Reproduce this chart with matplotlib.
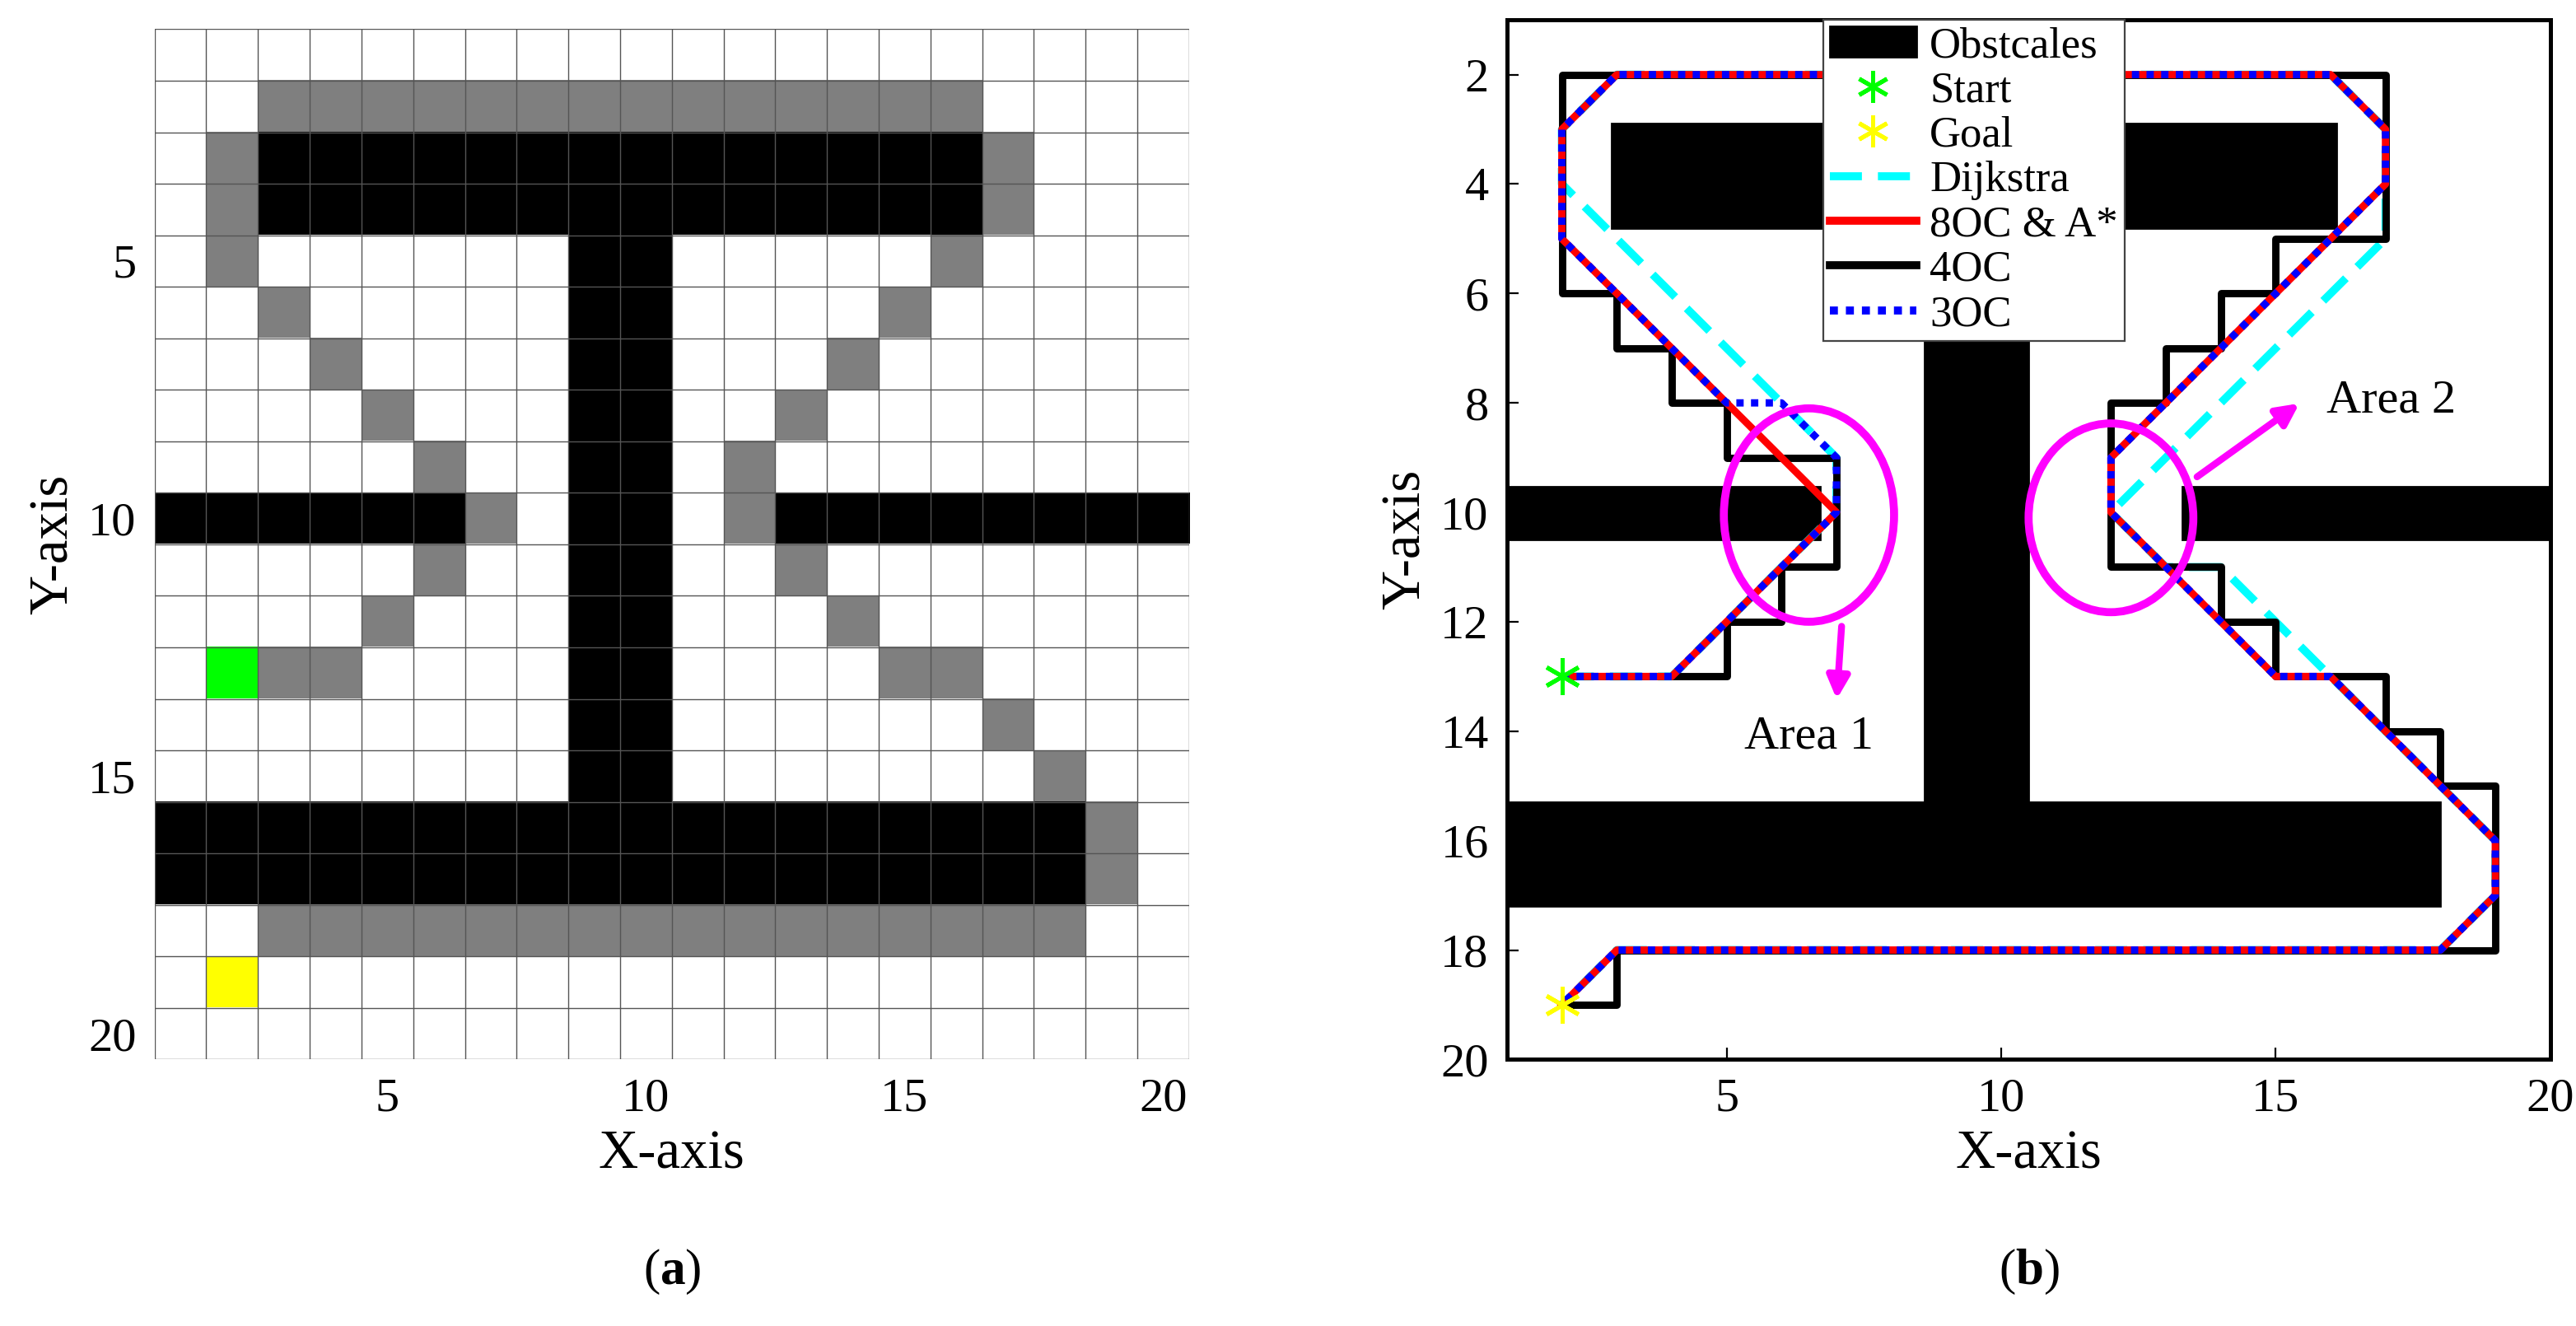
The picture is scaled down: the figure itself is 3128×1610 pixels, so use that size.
import matplotlib
matplotlib.use("Agg")
import matplotlib.pyplot as plt
import numpy as np
from matplotlib.patches import Rectangle, Ellipse
from matplotlib.lines import Line2D

plt.rcParams['font.family'] = ['Liberation Serif', 'DejaVu Serif']
plt.rcParams['mathtext.fontset'] = 'custom'
plt.rcParams['mathtext.rm'] = 'Liberation Serif'
plt.rcParams['mathtext.bf'] = 'Liberation Serif:bold'

# ---------- panel (a) grid data ----------
grid_obstacles = [(3, 16, 3, 4), (9, 10, 5, 15), (1, 6, 10, 10), (13, 20, 10, 10), (1, 18, 16, 17)]
gray_cols = [3,4,5,6,7,8,9,10,11,12,13,14,15,16, 2,2,2, 17,17,
             16,15,14,13,12,12,13,14,15,16,17,18,19,19,
             3,4,5,6,7,6,5,3,4,
             3,4,5,6,7,8,9,10,11,12,13,14,15,16,17,18]
gray_rows = [2]*14 + [3,4,5, 3,4,
             5,6,7,8,9,10,11,12,13,13,14,15,16,17,
             6,7,8,9,10,11,12,13,13,
             ] + [18]*16
start_cell = (2, 13)
goal_cell = (2, 19)

# ---------- panel (b) data ----------
obst_x0 = [2.9, 8.6, 1.0, 13.3, 1.0]
obst_x1 = [16.1, 10.5, 6.7, 20.0, 18.0]
obst_y0 = [2.9, 4.8, 9.53, 9.53, 15.3]
obst_y1 = [4.8, 15.3, 10.5, 10.5, 17.2]

dij_x = [2, 4, 7, 7, 2, 2, 3, 16, 17, 17, 12, 13, 14, 16, 19, 19, 18, 3, 2]
dij_y = [13, 13, 10, 9, 4, 3, 2, 2, 3, 5, 10, 11, 11, 13, 16, 17, 18, 18, 19]
oc8_x = [2, 4, 7, 5, 2, 2, 3, 16, 17, 17, 12, 12, 15, 16, 19, 19, 18, 3, 2]
oc8_y = [13, 13, 10, 8, 5, 3, 2, 2, 3, 4, 9, 10, 13, 13, 16, 17, 18, 18, 19]
oc4_x = [2, 5, 5, 6, 6, 7, 7, 5, 5, 4, 4, 3, 3, 2, 2, 17, 17, 15, 15, 14, 14, 13, 13, 12, 12,
         14, 14, 15, 15, 17, 17, 18, 18, 19, 19, 3, 3, 2]
oc4_y = [13, 13, 12, 12, 11, 11, 9, 9, 8, 8, 7, 7, 6, 6, 2, 2, 5, 5, 6, 6, 7, 7, 8, 8, 11,
         11, 12, 12, 13, 13, 14, 14, 15, 15, 18, 18, 19, 19]
oc3_x = [2, 4, 7, 7, 6, 5, 2, 2, 3, 16, 17, 17, 12, 12, 15, 16, 19, 19, 18, 3, 2]
oc3_y = [13, 13, 10, 9, 8, 8, 5, 3, 2, 2, 3, 4, 9, 10, 13, 13, 16, 17, 18, 18, 19]
start_pt = (2, 13)
goal_pt = (2, 19)

fig = plt.figure(figsize=(15.64, 8.05), dpi=200)

# ---------- panel (a) ----------
axa = fig.add_axes([0.060, 0.201, 0.4016, 0.777])
cells = np.ones((20, 20, 3))
for c0, c1, r0, r1 in grid_obstacles:
    cells[r0-1:r1, c0-1:c1] = 0
for c, r in zip(gray_cols, gray_rows):
    cells[r-1, c-1] = 0.5
cells[start_cell[1]-1, start_cell[0]-1] = (0, 1, 0)
cells[goal_cell[1]-1, goal_cell[0]-1] = (1, 1, 0)
axa.imshow(cells, extent=(0.5, 20.5, 20.5, 0.5), interpolation='nearest', aspect='auto')
for k in np.arange(0.5, 21, 1):
    axa.axvline(k, color='#555555', lw=0.5)
    axa.axhline(k, color='#555555', lw=0.5)
axa.set_xlim(0.5, 20.5)
axa.set_ylim(20.5, 0.5)
axa.set_xticks([5, 10, 15, 20])
axa.set_yticks([5, 10, 15, 20])
axa.tick_params(length=0, labelsize=21, pad=8)
for s in axa.spines.values():
    s.set_visible(False)
axa.set_xlabel('X-axis', fontsize=24, labelpad=4)
axa.set_ylabel('Y-axis', fontsize=24, labelpad=4)

# ---------- panel (b) ----------
axb = fig.add_axes([0.585, 0.201, 0.405, 0.784])
for x0, x1, y0, y1 in zip(obst_x0, obst_x1, obst_y0, obst_y1):
    axb.add_patch(Rectangle((x0, y0), x1 - x0, y1 - y0, color='black', zorder=1))
axb.plot(dij_x, dij_y, color='cyan', lw=3.5, ls=(0, (4, 2)), zorder=2)
axb.plot(oc4_x, oc4_y, color='black', lw=3.2, zorder=3)
axb.plot(oc8_x, oc8_y, color='red', lw=3.2, zorder=4)
axb.plot(oc3_x, oc3_y, color='blue', lw=3.2, ls=(0, (1, 1)), zorder=5)
axb.plot(*start_pt, marker=(6, 2, 0), color='#00ff00', ms=16, mew=1.8, zorder=6, ls='none')
axb.plot(*goal_pt, marker=(6, 2, 0), color='yellow', ms=16, mew=1.8, zorder=6, ls='none')

axb.add_patch(Ellipse((6.5, 10.05), 3.1, 3.9, fill=False, ec='magenta', lw=3.5, zorder=7))
axb.add_patch(Ellipse((12.0, 10.1), 3.0, 3.45, fill=False, ec='magenta', lw=3.5, zorder=7))
axb.annotate('', xy=(7.0, 13.5), xytext=(7.1, 12.0),
             arrowprops=dict(arrowstyle='-|>', color='magenta', lw=3, mutation_scale=20), zorder=7)
axb.annotate('', xy=(15.5, 7.96), xytext=(13.5, 9.4),
             arrowprops=dict(arrowstyle='-|>', color='magenta', lw=3, mutation_scale=20), zorder=7)
axb.text(6.5, 14.1, 'Area 1', fontsize=21, ha='center', va='center')
axb.text(17.1, 7.96, 'Area 2', fontsize=21, ha='center', va='center')

axb.set_xlim(1, 20)
axb.set_ylim(20, 1)
axb.set_xticks([5, 10, 15, 20])
axb.set_yticks(list(range(2, 21, 2)))
axb.tick_params(direction='in', length=5, labelsize=21, pad=8)
for s in axb.spines.values():
    s.set_linewidth(1.8)
axb.set_xlabel('X-axis', fontsize=24, labelpad=4)
axb.set_ylabel('Y-axis', fontsize=24, labelpad=4)

handles = [
    Rectangle((0, 0), 1, 1, color='black'),
    Line2D([], [], marker=(6, 2, 0), color='#00ff00', ls='none', ms=14, mew=1.8),
    Line2D([], [], marker=(6, 2, 0), color='yellow', ls='none', ms=14, mew=1.8),
    Line2D([], [], color='cyan', lw=3.5, ls=(0, (4, 2))),
    Line2D([], [], color='red', lw=3.5),
    Line2D([], [], color='black', lw=3.5),
    Line2D([], [], color='blue', lw=3.5, ls=(0, (1, 1))),
]
labels = ['Obstcales', 'Start', 'Goal', 'Dijkstra', '8OC & A*', '4OC', '3OC']
leg = axb.legend(handles, labels, loc='upper left', bbox_to_anchor=(0.303, 1.0), borderaxespad=0,
                 fontsize=19, fancybox=False, edgecolor='#444444', framealpha=1,
                 handlelength=2.0, handletextpad=0.3, labelspacing=0.12, borderpad=0.15)
leg.set_zorder(10)
leg.get_frame().set_linewidth(0.8)

fig.text(0.2608, 0.032, r'($\mathbf{a}$)', fontsize=22, ha='center')
fig.text(0.7877, 0.032, r'($\mathbf{b}$)', fontsize=22, ha='center')

fig.savefig('out.png', dpi=200, facecolor='white')
